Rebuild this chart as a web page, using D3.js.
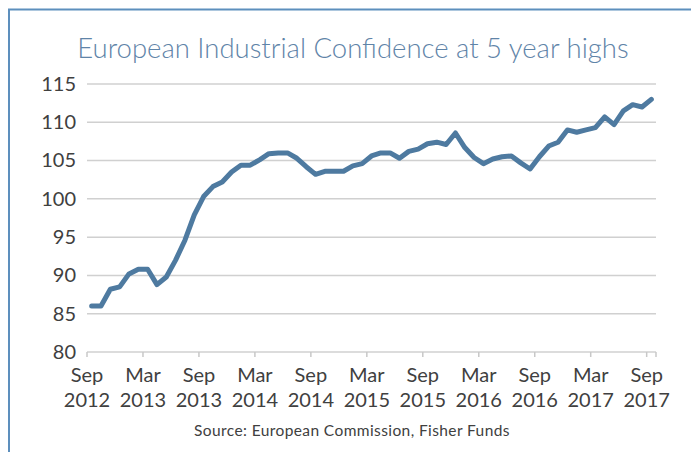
<!DOCTYPE html>
<html>
<head>
<meta charset="utf-8">
<script src="https://cdn.jsdelivr.net/npm/d3@7"></script>
<style>
  body { margin: 0; background: #fff; }
  svg { display: block; font-family: Lato, "Noto Sans", sans-serif; }
</style>
</head>
<body>
<svg id="chart" width="691" height="452"></svg>
<script>
// monthly index, Sep 2012 .. Sep 2017
const months = d3.timeMonths(new Date(2012, 8, 1), new Date(2017, 9, 1));
const confidence = [
  86.0, 86.0, 88.2, 88.5,
  90.2, 90.8, 90.8, 88.8, 89.8, 92.0, 94.6, 97.9, 100.3, 101.6, 102.2, 103.5,
  104.4, 104.4, 105.1, 105.9, 106.0, 106.0, 105.3, 104.2, 103.2, 103.6, 103.6, 103.6,
  104.3, 104.6, 105.6, 106.0, 106.0, 105.3, 106.2, 106.5, 107.2, 107.4, 107.1, 108.6,
  106.7, 105.4, 104.6, 105.2, 105.5, 105.6, 104.7, 103.9, 105.5, 106.9, 107.4, 109.0,
  108.7, 109.0, 109.3, 110.7, 109.7, 111.5, 112.3, 112.0, 113.0
];
const yTicks = [80, 85, 90, 95, 100, 105, 110, 115];
const titleText = "European Industrial Confidence at 5 year highs";
const sourceText = "Source: European Commission, Fisher Funds";

const data = months.map((m, i) => ({ date: m, value: confidence[i] }));

const svg = d3.select("#chart");
const margin = { left: 87, right: 35, top: 84, bottom: 100 };
const width = 691, height = 452;

// frame round the chart
svg.append("path")
  .attr("d", `M9,452 L9,9.5 L691,9.5`)
  .attr("fill", "none")
  .attr("stroke", "#5d8fbd")
  .attr("stroke-width", 2);

svg.append("text")
  .attr("x", 353)
  .attr("y", 58)
  .attr("text-anchor", "middle")
  .attr("font-size", 27.5)
  .attr("font-weight", 300)
  .attr("fill", "#5f84a8")
  .text(titleText);

const x = d3.scaleBand()
  .domain(months.map(d => +d))
  .range([margin.left, width - margin.right]);

const y = d3.scaleLinear()
  .domain([80, 115])
  .range([height - margin.bottom, margin.top]);

// gridlines
svg.append("g")
  .selectAll("line")
  .data(yTicks)
  .join("line")
  .attr("x1", margin.left)
  .attr("x2", width - margin.right)
  .attr("y1", d => y(d))
  .attr("y2", d => y(d))
  .attr("stroke", "#d0d0d0")
  .attr("stroke-width", 1.5);

// y axis labels
const yAxis = svg.append("g")
  .attr("transform", `translate(${margin.left},0)`)
  .call(d3.axisLeft(y).tickValues(yTicks).tickSize(0).tickPadding(11));
yAxis.select(".domain").remove();
yAxis.selectAll("text")
  .attr("font-size", 20)
  .attr("font-family", "Lato, 'Noto Sans', sans-serif")
  .attr("fill", "#404040");

// x axis: ticks every 6 months at category edges
const tickMonths = months.filter((m, i) => i % 6 === 0);
const fmtMon = d3.timeFormat("%b");
const fmtYear = d3.timeFormat("%Y");
const xg = svg.append("g")
  .attr("transform", `translate(0,${y(80)})`);
xg.selectAll("line")
  .data(tickMonths)
  .join("line")
  .attr("x1", d => x(+d))
  .attr("x2", d => x(+d))
  .attr("y1", 0)
  .attr("y2", 5)
  .attr("stroke", "#c8c8c8")
  .attr("stroke-width", 1.5);
xg.append("line")
  .attr("x1", width - margin.right)
  .attr("x2", width - margin.right)
  .attr("y1", 0)
  .attr("y2", 5)
  .attr("stroke", "#c8c8c8")
  .attr("stroke-width", 1.5);
const lbl = xg.selectAll("text")
  .data(tickMonths)
  .join("text")
  .attr("x", d => x(+d))
  .attr("text-anchor", "middle")
  .attr("font-size", 20)
  .attr("fill", "#404040");
lbl.append("tspan").attr("x", d => x(+d)).attr("y", 30).text(d => fmtMon(d));
lbl.append("tspan").attr("x", d => x(+d)).attr("y", 55).text(d => fmtYear(d));

// the series
const line = d3.line()
  .x(d => x(+d.date) + x.bandwidth() / 2)
  .y(d => y(d.value));

svg.append("path")
  .datum(data)
  .attr("d", line)
  .attr("fill", "none")
  .attr("stroke", "#4e7aa0")
  .attr("stroke-width", 5)
  .attr("stroke-linejoin", "round")
  .attr("stroke-linecap", "round");

svg.append("text")
  .attr("x", 352)
  .attr("y", 436)
  .attr("text-anchor", "middle")
  .attr("font-size", 15.5)
  .attr("letter-spacing", 0.4)
  .attr("fill", "#404040")
  .text(sourceText);
</script>
</body>
</html>
